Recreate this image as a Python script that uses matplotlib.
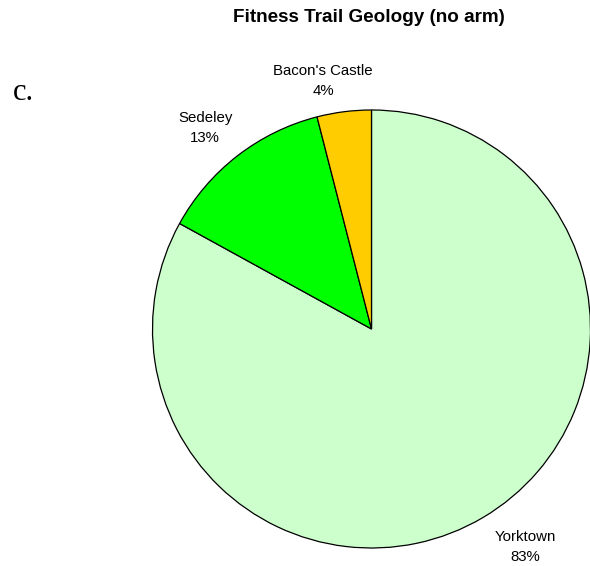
import matplotlib.pyplot as plt

plt.rcParams['font.family'] = ['Liberation Sans', 'DejaVu Sans']

units = ['Yorktown', 'Sedeley', "Bacon's Castle"]
shares = [83, 13, 4]
colors = ['#CCFFCC', '#00FF00', '#FFCC00']

# label centres, in pie radii
label_xy = [(0.701, -0.995), (-0.760, 0.918), (-0.221, 1.132)]

W, H = 590, 566
fig = plt.figure(figsize=(W / 100, H / 100), dpi=100)
ax = fig.add_axes([152.5 / W, 18 / H, 438 / W, 438 / H])

wedges, _ = ax.pie(shares, colors=colors, startangle=90, counterclock=False,
                   wedgeprops={'edgecolor': 'black', 'linewidth': 0.9})
ax.set_xlim(-1, 1)
ax.set_ylim(-1, 1)
ax.set_aspect('equal')
ax.axis('off')

total = sum(shares)
for name, val, (x, y) in zip(units, shares, label_xy):
    pct = round(100 * val / total)
    ax.text(x, y, name + '\n' + str(pct) + '%', ha='center', va='center',
            fontsize=10.8, linespacing=1.5)

fig.text(369 / W, 1 - 18 / H, 'Fitness Trail Geology (no arm)',
         ha='center', va='center', fontsize=13.6, fontweight='bold')
fig.text(13 / W, 1 - 100 / H, 'c.', ha='left', va='baseline',
         fontsize=22, family='Liberation Serif')

fig.savefig('out.png', dpi=100)
